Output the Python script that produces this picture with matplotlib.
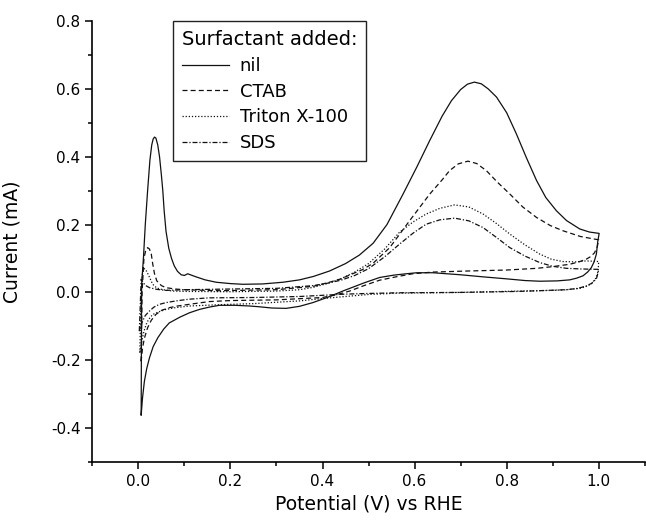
import numpy as np
import matplotlib
matplotlib.use("Agg")
from matplotlib import pyplot as plt
from matplotlib.ticker import MultipleLocator

# cyclic voltammograms, one closed loop per surfactant
nil_v = [0.006, 0.007, 0.011, 0.015, 0.020, 0.025, 0.029, 0.032, 0.035, 0.038, 0.042, 0.046, 0.050,
         0.053, 0.056, 0.060, 0.066, 0.072, 0.078, 0.085, 0.093, 0.100, 0.107, 0.115, 0.125, 0.145,
         0.169, 0.20, 0.227, 0.27, 0.314, 0.35, 0.38, 0.415, 0.45, 0.48, 0.51, 0.54, 0.575, 0.605,
         0.633, 0.66, 0.68, 0.70, 0.715, 0.73, 0.745, 0.76, 0.778, 0.80, 0.821, 0.843, 0.865, 0.885,
         0.908, 0.93, 0.959, 0.98, 1.001,
         0.998, 0.995, 0.990, 0.984, 0.976, 0.966, 0.952, 0.937, 0.91, 0.872, 0.84, 0.80, 0.748,
         0.70, 0.640, 0.605, 0.582, 0.555, 0.524, 0.49, 0.444, 0.41, 0.379, 0.35, 0.321, 0.29,
         0.26, 0.241, 0.21, 0.176, 0.155, 0.133, 0.111, 0.090, 0.067, 0.055, 0.042, 0.032, 0.024,
         0.018, 0.013, 0.009, 0.006]
nil_i = [-0.361, 0.024, 0.103, 0.201, 0.300, 0.390, 0.435, 0.452, 0.458, 0.455, 0.435, 0.399, 0.345,
         0.300, 0.240, 0.180, 0.130, 0.100, 0.078, 0.062, 0.052, 0.050, 0.055, 0.051, 0.046, 0.037,
         0.030, 0.026, 0.024, 0.025, 0.030, 0.037, 0.047, 0.063, 0.085, 0.110, 0.145, 0.200, 0.290,
         0.370, 0.448, 0.520, 0.565, 0.598, 0.614, 0.620, 0.615, 0.600, 0.576, 0.530, 0.468, 0.397,
         0.330, 0.280, 0.241, 0.212, 0.187, 0.178, 0.174,
         0.150, 0.113, 0.090, 0.073, 0.060, 0.049, 0.042, 0.037, 0.034, 0.033, 0.035, 0.040, 0.046,
         0.052, 0.058, 0.058, 0.055, 0.051, 0.044, 0.028, 0.004, -0.015, -0.030, -0.041, -0.047,
         -0.046, -0.042, -0.040, -0.038, -0.038, -0.043, -0.050, -0.060, -0.073, -0.090, -0.108,
         -0.134, -0.160, -0.193, -0.225, -0.262, -0.310, -0.361]

ctab_v = [0.006, 0.008, 0.012, 0.016, 0.020, 0.024, 0.028, 0.031, 0.035, 0.040, 0.050, 0.060, 0.080,
          0.10, 0.176, 0.30, 0.38, 0.415, 0.44, 0.46, 0.485, 0.509, 0.546, 0.589, 0.633, 0.660,
          0.676, 0.695, 0.716, 0.735, 0.756, 0.780, 0.807, 0.835, 0.865, 0.895, 0.922, 0.96, 1.0,
          0.997, 0.991, 0.983, 0.973, 0.957, 0.937, 0.90, 0.865, 0.80, 0.712, 0.640, 0.596, 0.560,
          0.524, 0.49, 0.459, 0.43, 0.40, 0.30, 0.20, 0.154, 0.111, 0.085, 0.067, 0.050, 0.038,
          0.028, 0.020, 0.013, 0.009, 0.006]
ctab_i = [-0.203, 0.0, 0.100, 0.125, 0.132, 0.128, 0.113, 0.085, 0.055, 0.034, 0.020, 0.014, 0.010,
          0.008, 0.005, 0.008, 0.018, 0.030, 0.040, 0.052, 0.066, 0.085, 0.132, 0.211, 0.290, 0.332,
          0.359, 0.379, 0.387, 0.380, 0.359, 0.325, 0.290, 0.252, 0.221, 0.197, 0.182, 0.165, 0.155,
          0.135, 0.117, 0.106, 0.098, 0.090, 0.083, 0.076, 0.071, 0.066, 0.063, 0.060, 0.055, 0.046,
          0.036, 0.020, 0.004, -0.007, -0.015, -0.022, -0.024, -0.027, -0.035, -0.040, -0.045,
          -0.053, -0.065, -0.082, -0.104, -0.135, -0.164, -0.203]

triton_v = [0.003, 0.006, 0.008, 0.010, 0.013, 0.018, 0.024, 0.031, 0.040, 0.053, 0.075, 0.10, 0.20,
            0.30, 0.35, 0.38, 0.41, 0.44, 0.47, 0.50, 0.535, 0.567, 0.597, 0.625, 0.655, 0.687, 0.718,
            0.749, 0.778, 0.807, 0.840, 0.872, 0.897, 0.922, 0.950, 0.973, 1.0,
            0.999, 0.995, 0.984, 0.970, 0.959, 0.93, 0.90, 0.828, 0.70, 0.567, 0.50, 0.45, 0.40,
            0.35, 0.25, 0.18, 0.111, 0.080, 0.060, 0.045, 0.031, 0.022, 0.017, 0.012, 0.009, 0.003]
triton_i = [-0.178, 0.0, 0.045, 0.068, 0.070, 0.062, 0.045, 0.024, 0.013, 0.008, 0.004, 0.003, 0.002,
            0.004, 0.008, 0.015, 0.026, 0.040, 0.060, 0.085, 0.128, 0.177, 0.208, 0.231, 0.248,
            0.258, 0.252, 0.231, 0.203, 0.172, 0.140, 0.113, 0.098, 0.091, 0.090, 0.093, 0.091,
            0.065, 0.044, 0.025, 0.016, 0.012, 0.008, 0.006, 0.004, 0.0, -0.002, -0.006, -0.012,
            -0.018, -0.025, -0.033, -0.036, -0.040, -0.045, -0.050, -0.057, -0.065, -0.080, -0.094,
            -0.115, -0.134, -0.178]

sds_v = [0.002, 0.005, 0.006, 0.010, 0.015, 0.024, 0.040, 0.060, 0.10, 0.20, 0.30, 0.38, 0.41, 0.44,
         0.47, 0.50, 0.535, 0.567, 0.597, 0.625, 0.655, 0.687, 0.718, 0.749, 0.778, 0.807, 0.840,
         0.872, 0.900, 0.930, 0.965, 1.0,
         0.998, 0.995, 0.985, 0.973, 0.955, 0.93, 0.828, 0.70, 0.567, 0.50, 0.45, 0.35, 0.25, 0.154,
         0.110, 0.082, 0.060, 0.046, 0.034, 0.024, 0.015, 0.009, 0.002]
sds_i = [-0.114, 0.0, 0.039, 0.030, 0.021, 0.014, 0.009, 0.006, 0.008, 0.010, 0.012, 0.020, 0.027,
         0.036, 0.050, 0.070, 0.105, 0.142, 0.175, 0.201, 0.214, 0.219, 0.211, 0.191, 0.162, 0.132,
         0.107, 0.088, 0.077, 0.071, 0.069, 0.068,
         0.055, 0.040, 0.027, 0.019, 0.012, 0.008, 0.003, 0.0, -0.001, -0.003, -0.005, -0.012,
         -0.015, -0.016, -0.020, -0.025, -0.030, -0.035, -0.043, -0.055, -0.068, -0.085, -0.114]

fig = plt.figure(figsize=(6.46, 5.2), dpi=100)
ax = fig.add_axes([0.143, 0.1115, 0.855, 0.848])

lw = 0.9
ax.plot(nil_v, nil_i, color="#111111", lw=lw, ls="-", label="nil")
ax.plot(ctab_v, ctab_i, color="#111111", lw=lw, ls=(0, (4, 2.5)), label="CTAB")
ax.plot(triton_v, triton_i, color="#111111", lw=lw, ls=(0, (1, 1.5)), label="Triton X-100")
ax.plot(sds_v, sds_i, color="#111111", lw=lw, ls=(0, (4, 1.5, 1, 1.5)), label="SDS")

ax.set_xlim(-0.1, 1.1)
ax.set_ylim(-0.5, 0.8)
ax.xaxis.set_minor_locator(MultipleLocator(0.1))
ax.yaxis.set_major_locator(MultipleLocator(0.2))
ax.yaxis.set_minor_locator(MultipleLocator(0.1))
ax.set_xticks([0.0, 0.2, 0.4, 0.6, 0.8, 1.0])
ax.xaxis.set_major_formatter(plt.FormatStrFormatter("%.1f"))
ax.yaxis.set_major_formatter(plt.FormatStrFormatter("%.1f"))

for side in ["top", "right"]:
    ax.spines[side].set_visible(False)
for side in ["left", "bottom"]:
    ax.spines[side].set_linewidth(1.2)
ax.tick_params(which="major", direction="out", length=5, width=1.1, labelsize=11)
ax.tick_params(which="minor", direction="out", length=3, width=1.1)

ax.set_xlabel("Potential (V) vs RHE", fontsize=13.5, labelpad=4)
ax.set_ylabel("Current (mA)", fontsize=13.5)
ax.yaxis.set_label_coords(-0.128, 0.5)

leg = ax.legend(title="Surfactant added:", loc="upper left", bbox_to_anchor=(0.1457, 1.0),
                borderaxespad=0, fontsize=13, title_fontsize=14, alignment="left",
                handlelength=2.6, handletextpad=0.6, labelspacing=0.43, borderpad=0.5,
                fancybox=False, framealpha=1)
leg.get_frame().set_edgecolor("#222222")
leg.get_frame().set_linewidth(1.0)

fig.savefig("out.png", dpi=100)
